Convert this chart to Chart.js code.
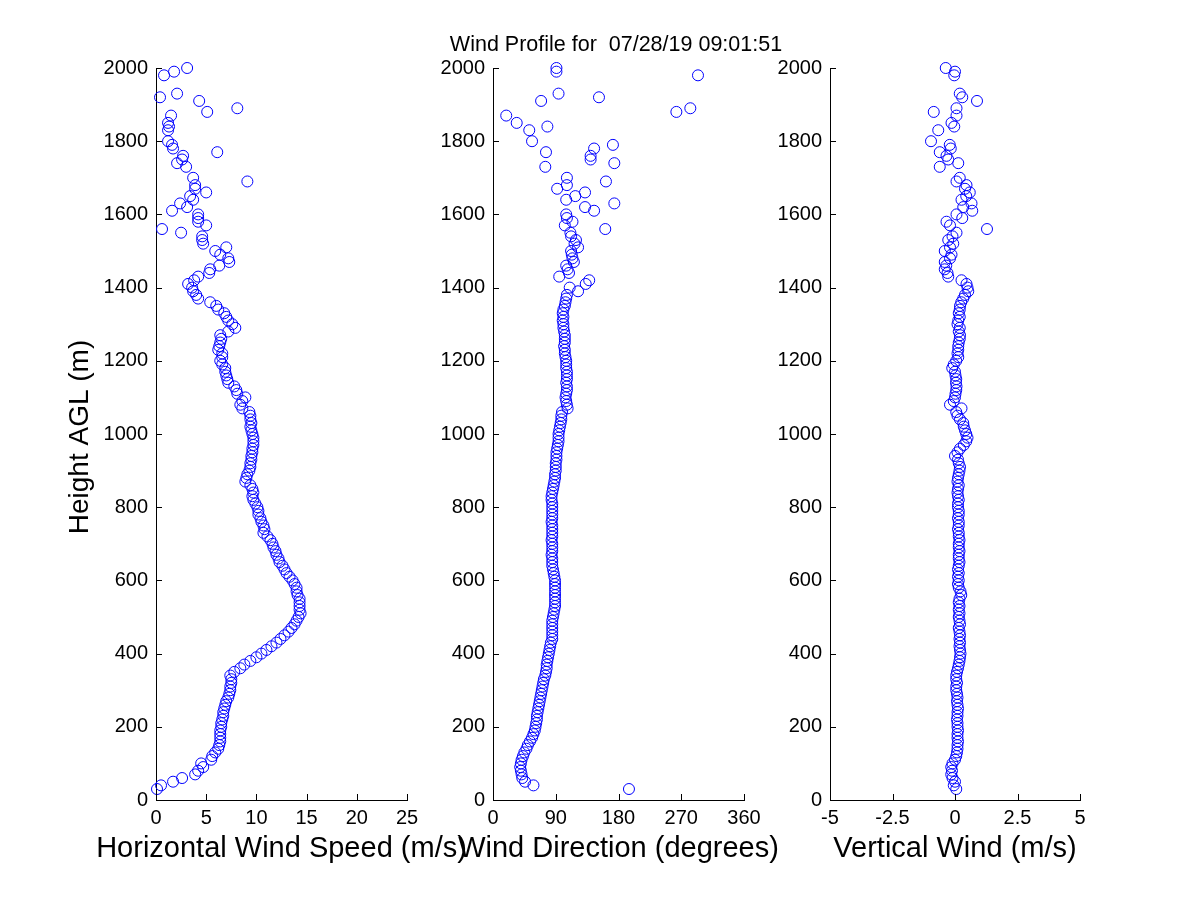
<!DOCTYPE html>
<html>
<head>
<meta charset="UTF-8">
<title>Wind Profile</title>
<script src="https://cdn.jsdelivr.net/npm/chart.js@4"></script>
<style>
  body { margin: 0; background: #fff; }
  #wrap { position: relative; width: 1200px; height: 900px; }
  #wrap canvas { position: absolute; left: 0; top: 0; }
</style>
</head>
<body>
<div id="wrap">
  <canvas id="speedChart" width="1200" height="900"></canvas>
  <canvas id="dirChart" width="1200" height="900"></canvas>
  <canvas id="vertChart" width="1200" height="900"></canvas>
</div>
<script>
// range gates (m AGL), bottom to top
const heights = [
  30, 40, 50, 60, 70, 80, 90, 100, 110, 120,
  130, 140, 150, 160, 170, 180, 190, 200, 210, 220,
  230, 240, 250, 260, 270, 280, 290, 300, 310, 320,
  330, 340, 350, 360, 370, 380, 390, 400, 410, 420,
  430, 440, 450, 460, 470, 480, 490, 500, 510, 520,
  530, 540, 550, 560, 570, 580, 590, 600, 610, 620,
  630, 640, 650, 660, 670, 680, 690, 700, 710, 720,
  730, 740, 750, 760, 770, 780, 790, 800, 810, 820,
  830, 840, 850, 860, 870, 880, 890, 900, 910, 920,
  930, 940, 950, 960, 970, 980, 990, 1000, 1010, 1020,
  1030, 1040, 1050, 1060, 1070, 1080, 1090, 1100, 1110, 1120,
  1130, 1140, 1150, 1160, 1170, 1180, 1190, 1200, 1210, 1220,
  1230, 1240, 1250, 1260, 1270, 1280, 1290, 1300, 1310, 1320,
  1330, 1340, 1350, 1360, 1370, 1380, 1390, 1400, 1410, 1420,
  1430, 1440, 1450, 1460, 1470, 1480, 1490, 1500, 1510, 1520,
  1530, 1540, 1550, 1560, 1570, 1580, 1590, 1600, 1610, 1620,
  1630, 1640, 1650, 1660, 1670, 1680, 1690, 1700, 1710, 1720,
  1730, 1740, 1750, 1760, 1770, 1780, 1790, 1800, 1810, 1820,
  1830, 1840, 1850, 1860, 1870, 1880, 1890, 1900, 1910, 1920,
  1930, 1940, 1950, 1960, 1970, 1980, 1990, 2000
];

// horizontal wind speed (m/s)
const speed = [
  0.1, 0.5, 1.7, 2.6, 3.9, 4.2, 4.7, 4.5, 5.5, 5.6,
  5.9, 6.2, 6.3, 6.4, 6.4, 6.4, 6.4, 6.5, 6.5, 6.6,
  6.7, 6.7, 6.8, 6.9, 7.0, 7.2, 7.3, 7.4, 7.4, 7.5,
  7.5, 7.4, 7.8, 8.4, 8.8, 9.4, 10.0, 10.5, 11.0, 11.5,
  12.0, 12.4, 12.8, 13.2, 13.5, 13.8, 14.0, 14.2, 14.4, 14.3,
  14.3, 14.3, 14.3, 14.1, 14.0, 14.0, 13.8, 13.6, 13.3, 13.0,
  12.8, 12.6, 12.3, 12.2, 12.0, 11.9, 11.7, 11.6, 11.4, 11.1,
  10.7, 10.8, 10.7, 10.5, 10.4, 10.2, 10.2, 10.1, 9.9, 9.7,
  9.6, 9.7, 9.6, 9.4, 8.9, 9.0, 9.1, 9.3, 9.4, 9.4,
  9.5, 9.5, 9.6, 9.6, 9.7, 9.7, 9.7, 9.6, 9.5, 9.4,
  9.5, 9.4, 9.4, 9.3, 8.6, 8.4, 8.6, 8.9, 8.1, 8.0,
  7.8, 7.2, 7.1, 7.0, 6.9, 6.9, 6.6, 6.4, 6.6, 6.6,
  6.2, 6.3, 6.4, 6.5, 6.4, 7.2, 7.9, 7.6, 7.2, 7.0,
  6.8, 6.2, 6.0, 5.4, 4.2, 4.0, 3.7, 3.6, 3.2, 3.8,
  4.2, 5.3, 5.4, 6.3, 7.3, 7.2, 6.4, 5.9, 7.0, 4.7,
  4.6, 4.6, 2.5, 0.6, 5.0, 4.2, 4.2, 4.2, 1.6, 3.1,
  2.4, 3.7, 3.4, 5.0, 3.9, 3.9, 9.1, 3.7, null, null,
  3.0, 2.1, 2.6, 2.7, 6.1, 1.7, 1.6, 1.2, null, null,
  1.2, 1.3, 1.2, null, 1.5, 5.1, 8.1, null, 4.3, 0.4,
  2.1, null, null, null, null, 0.8, 1.8, 3.1
];

// wind direction (degrees)
const direction = [
  195, 58, 46, 42, 41, 40, 39, 40, 41, 43,
  45, 48, 50, 53, 56, 58, 60, 61, 62, 63,
  63, 64, 65, 66, 67, 68, 69, 70, 71, 72,
  73, 75, 76, 77, 77, 78, 79, 80, 81, 82,
  83, 85, 85, 85, 85, 85, 85, 86, 87, 88,
  89, 89, 89, 89, 89, 89, 89, 89, 88, 87,
  86, 85, 85, 85, 84, 85, 85, 85, 84, 85,
  85, 85, 85, 84, 85, 85, 85, 85, 85, 84,
  84, 85, 86, 87, 88, 89, 89, 90, 90, 90,
  91, 91, 91, 92, 93, 94, 94, 94, 95, 96,
  97, 98, 98, 99, 107, 106, 105, 104, 105, 106,
  106, 105, 106, 106, 106, 105, 105, 105, 104, 103,
  103, 102, 103, 103, 103, 102, 101, 101, 100, 101,
  100, 101, 103, 104, 105, 106, 122, 110, 133, 138,
  95, 109, 107, 105, 116, 114, 113, 112, 122, 117,
  119, 112, 111, 161, 103, 114, 106, 105, 145, 132,
  174, 105, 118, 132, 92, 106, 162, 106, null, null,
  75, 174, 140, 140, 76, 145, 172, 56, null, null,
  52, 78, 34, null, 19, 263, 283, null, 69, 152,
  94, null, null, null, null, 294, 91, 91
];

// vertical wind (m/s)
const vertical = [
  0.05, -0.05, 0.0, -0.1, -0.15, -0.12, -0.15, -0.1, 0.0, 0.05,
  0.08, 0.1, 0.1, 0.12, 0.1, 0.1, 0.12, 0.1, 0.1, 0.08,
  0.1, 0.1, 0.12, 0.1, 0.08, 0.1, 0.08, 0.05, 0.05, 0.08,
  0.05, 0.05, 0.08, 0.12, 0.15, 0.18, 0.2, 0.22, 0.2, 0.18,
  0.2, 0.18, 0.2, 0.18, 0.15, 0.2, 0.18, 0.15, 0.18, 0.15,
  0.18, 0.15, 0.18, 0.25, 0.22, 0.15, 0.12, 0.15, 0.12, 0.15,
  0.12, 0.15, 0.18, 0.15, 0.15, 0.18, 0.15, 0.15, 0.18, 0.15,
  0.15, 0.12, 0.15, 0.15, 0.12, 0.15, 0.15, 0.12, 0.12, 0.15,
  0.12, 0.1, 0.12, 0.15, 0.1, 0.12, 0.15, 0.18, 0.2, 0.15,
  0.12, 0.0, 0.1, 0.2, 0.35, 0.45, 0.5, 0.45, 0.4, 0.35,
  0.33, 0.2, 0.1, 0.05, 0.26, -0.2, -0.05, 0.0, 0.02, 0.05,
  0.06, 0.04, 0.05, 0.02, 0.0, -0.11, -0.05, 0.05, 0.13, 0.1,
  0.13, 0.13, 0.15, 0.19, 0.2, 0.15, 0.19, 0.1, 0.13, 0.19,
  0.15, 0.19, 0.2, 0.25, 0.33, 0.4, 0.53, 0.5, 0.46, 0.26,
  -0.27, -0.3, -0.41, -0.35, -0.41, -0.2, -0.14, -0.41, -0.2, -0.07,
  -0.27, -0.1, 0.06, 1.28, -0.2, -0.34, 0.29, 0.06, 0.69, 0.33,
  0.66, 0.26, 0.45, 0.59, 0.4, 0.46, 0.06, 0.19, null, null,
  -0.61, 0.13, -0.27, -0.34, -0.61, -0.17, -0.21, -0.96, null, null,
  -0.67, -0.03, -0.14, null, 0.06, -0.85, 0.06, null, 0.88, 0.29,
  0.19, null, null, null, null, -0.03, 0.0, -0.37
];

const heightTicks = [0, 200, 400, 600, 800, 1000, 1200, 1400, 1600, 1800, 2000];
const speedTicks = [0, 5, 10, 15, 20, 25];
const dirTicks = [0, 90, 180, 270, 360];
const vertTicks = [-5, -2.5, 0, 2.5, 5];

const FONT = "'Liberation Sans', Arial, sans-serif";
Chart.defaults.font.family = FONT;
Chart.defaults.color = '#000';

// MATLAB style: tick marks point into the plot
const inwardTicks = {
  id: 'inwardTicks',
  afterDraw(chart) {
    const { ctx, chartArea, scales } = chart;
    ctx.save();
    ctx.strokeStyle = '#000';
    ctx.lineWidth = 1;
    ctx.beginPath();
    scales.x.ticks.forEach(t => {
      const px = Math.round(scales.x.getPixelForValue(t.value)) + 0.5;
      ctx.moveTo(px, chartArea.bottom);
      ctx.lineTo(px, chartArea.bottom - 6);
    });
    scales.y.ticks.forEach(t => {
      const py = Math.round(scales.y.getPixelForValue(t.value)) + 0.5;
      ctx.moveTo(chartArea.left, py);
      ctx.lineTo(chartArea.left + 6, py);
    });
    ctx.stroke();
    ctx.restore();
  }
};

// axis labels and figure title, drawn unsquashed (Chart.js would fit them to the axis width)
const panelText = {
  id: 'panelText',
  afterDraw(chart, args, opts) {
    const { ctx, chartArea } = chart;
    const cx = (chartArea.left + chartArea.right) / 2;
    ctx.save();
    ctx.fillStyle = '#000';
    ctx.textAlign = 'center';
    ctx.textBaseline = 'alphabetic';
    if (opts.xTitle) {
      ctx.font = '29px ' + FONT;
      ctx.fillText(opts.xTitle, cx, 857);
    }
    if (opts.title) {
      ctx.font = '21.5px ' + FONT;
      ctx.fillText(opts.title, 616, 51);
    }
    if (opts.yTitle) {
      ctx.font = '28px ' + FONT;
      ctx.translate(88, 437);
      ctx.rotate(-Math.PI / 2);
      ctx.fillText(opts.yTitle, 0, 0);
    }
    ctx.restore();
  }
};

function fixBox(w, h) {
  return scale => {
    if (w != null) scale.width = w;
    if (h != null) scale.height = h;
    scale.paddingTop = 0;
    scale.paddingBottom = 0;
    scale.paddingLeft = 0;
    scale.paddingRight = 0;
  };
}

function makePanel(id, values, xTicks, left, right, xTitle, yTitle, title) {
  const points = [];
  heights.forEach((h, i) => {
    if (values[i] != null) points.push({ x: values[i], y: h });
  });
  return new Chart(document.getElementById(id), {
    type: 'scatter',
    data: {
      datasets: [{
        data: points,
        pointStyle: 'circle',
        pointRadius: 5.5,
        pointBorderWidth: 1,
        borderColor: '#0000ff',
        backgroundColor: 'rgba(0,0,0,0)',
        clip: false
      }]
    },
    plugins: [inwardTicks, panelText],
    options: {
      responsive: false,
      animation: false,
      devicePixelRatio: 1,
      events: [],
      layout: {
        padding: { left: left - 100, right: 1200 - right, top: 68, bottom: 20 }
      },
      plugins: {
        legend: { display: false },
        tooltip: { enabled: false },
        title: { display: false },
        panelText: { xTitle: xTitle, yTitle: yTitle, title: title }
      },
      scales: {
        x: {
          type: 'linear',
          min: xTicks[0],
          max: xTicks[xTicks.length - 1],
          afterBuildTicks: s => { s.ticks = xTicks.map(v => ({ value: v })); },
          afterFit: fixBox(null, 80),
          grid: { display: false, drawTicks: false },
          border: { display: true, color: '#000', width: 1 },
          ticks: { font: { size: 20 }, color: '#000', padding: 6, maxRotation: 0, callback: v => String(v) },
          title: { display: false }
        },
        y: {
          type: 'linear',
          min: 0,
          max: 2000,
          afterBuildTicks: s => { s.ticks = heightTicks.map(v => ({ value: v })); },
          afterFit: fixBox(100, null),
          grid: { display: false, drawTicks: false },
          border: { display: true, color: '#000', width: 1 },
          ticks: { font: { size: 20 }, color: '#000', padding: 8, callback: v => String(v) },
          title: { display: false }
        }
      }
    }
  });
}

makePanel('speedChart', speed, speedTicks, 156, 407, 'Horizontal Wind Speed (m/s)', 'Height AGL (m)', null);
makePanel('dirChart', direction, dirTicks, 493, 744, 'Wind Direction (degrees)', null, 'Wind Profile for  07/28/19 09:01:51');
makePanel('vertChart', vertical, vertTicks, 830, 1080, 'Vertical Wind (m/s)', null, null);
</script>
</body>
</html>
